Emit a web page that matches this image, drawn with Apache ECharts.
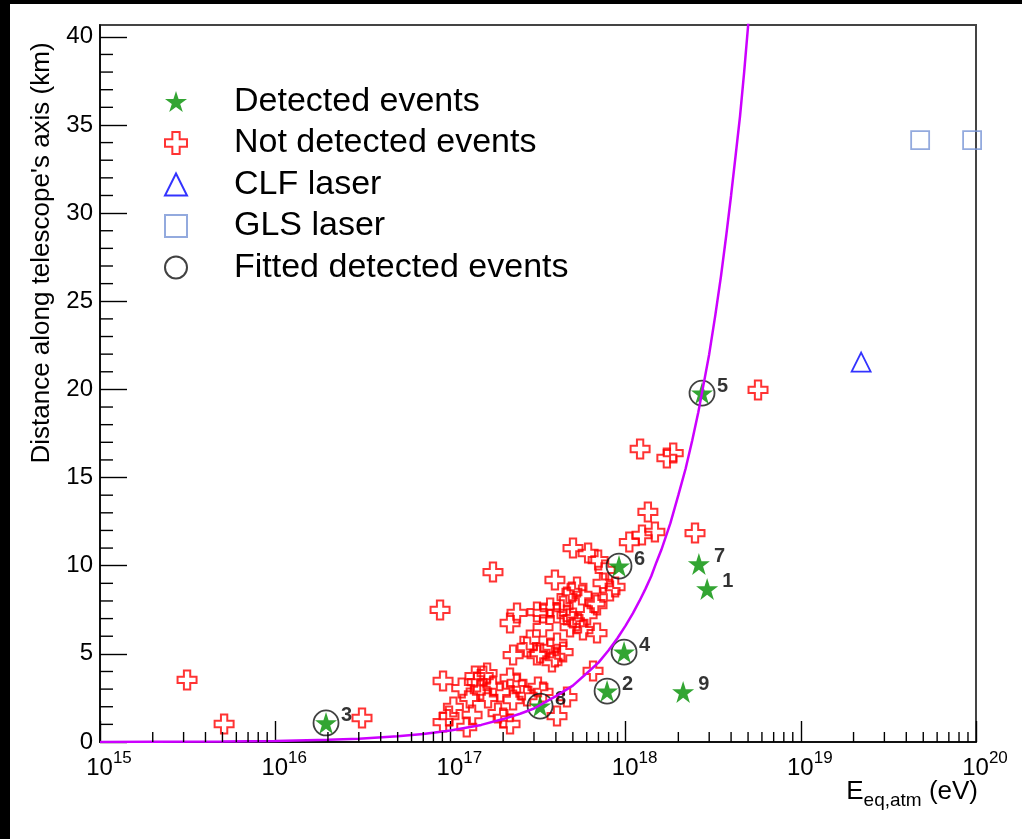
<!DOCTYPE html>
<html>
<head>
<meta charset="utf-8">
<script src="https://cdn.jsdelivr.net/npm/echarts@6/dist/echarts.min.js"></script>
<style>
  html, body { margin: 0; padding: 0; background: #fff; }
  #chart { width: 1022px; height: 839px; }
</style>
</head>
<body>
<div id="chart"></div>
<script>
const FONT = 'Liberation Sans, Arial, sans-serif';

// detected events (green stars), label numbers drawn next to them
const detLabels = ['1', '2', '3', '4', '5', '6', '7', '8', '9'];
const detE  = [2.92e18, 7.84e17, 1.95e16, 9.8e17, 2.73e18, 9.17e17, 2.62e18, 3.25e17, 2.13e18];
const detKm = [8.68, 2.89, 1.08, 5.10, 19.79, 9.98, 10.1, 2.04, 2.84];
// which of them were used in the fit (circled)
const fittedLabels = ['2', '3', '4', '5', '6', '8'];

// not detected events (red open crosses)
const notDetE = [
  3.14e15, 5.11e15, 3.13e16, 8.73e16, 1.75e17, 5.70e18, 1.21e18, 1.72e18, 1.87e18, 1.34e18,
  1.47e18, 1.24e18, 1.05e18, 2.49e18, 5.01e17, 6.11e17, 6.97e17, 7.64e17, 7.43e17, 8.71e17,
  8.15e17, 3.95e17, 5.28e17, 4.94e17, 4.63e17, 5.64e17, 6.70e17, 2.40e17, 3.12e17, 2.19e17,
  3.38e17, 3.71e17, 4.06e17, 4.40e17, 4.63e17, 5.01e17, 5.35e17, 6.03e17, 6.87e17, 6.87e17,
  5.71e17, 4.82e17, 3.38e17, 2.84e17, 2.28e17, 3.12e17, 3.71e17, 3.95e17, 4.06e17, 4.40e17,
  3.80e17, 6.52e17, 9.08e16, 1.16e17, 1.42e17, 1.62e17, 1.48e17, 1.75e17, 2.19e17, 2.40e17,
  2.56e17, 1.29e17, 1.04e17, 9.08e16, 1.24e17, 1.87e17, 2.00e17, 2.19e17, 3.38e17, 4.63e17,
  4.06e17, 1.54e17, 1.33e17, 1.64e17, 1.92e17, 2.74e17, 3.16e17, 2.74e17, 3.25e17, 1.38e17,
  2.28e17, 9.82e16
];
const notDetKm = [
  3.52, 1.02, 1.36, 7.49, 9.64, 19.97, 16.62, 16.11, 16.39, 13.05,
  11.91, 11.74, 11.34, 11.85, 11.0, 10.72, 10.32, 9.76, 9.02, 8.79,
  8.56, 9.19, 8.79, 8.51, 8.22, 8.34, 7.88, 7.32, 7.37, 6.75,
  7.32, 7.60, 7.32, 7.71, 7.20, 7.03, 6.75, 7.20, 7.77, 6.18,
  6.35, 6.52, 6.52, 5.79, 4.93, 4.93, 5.33, 4.82, 5.62, 5.10,
  4.54, 4.03, 3.46, 3.06, 3.40, 3.91, 2.95, 3.12, 3.63, 3.35,
  2.95, 2.50, 1.99, 1.13, 0.85, 1.64, 1.36, 1.02, 2.84, 2.55,
  1.47, 3.74, 1.53, 2.50, 2.84, 2.61, 3.12, 5.39, 5.05, 3.74,
  2.38, 1.47
];

const clfE = [2.21e19];
const clfKm = [21.55];
const glsE = [4.8e19, 9.5e19];
const glsKm = [34.14, 34.14];

// fitted curve
const curveE = [
  1e15, 2e15, 5e15, 1e16, 2e16, 3e16, 5e16, 7e16, 1e17, 1.5e17,
  2e17, 2.5e17, 3e17, 4e17, 5e17, 6e17, 7e17, 8e17, 9e17, 1e18,
  1.1e18, 1.2e18, 1.3e18, 1.4e18, 1.5e18, 1.6e18, 1.8e18, 2e18, 2.2e18, 2.4e18,
  2.6e18, 2.8e18, 3e18, 3.25e18, 3.5e18, 3.75e18, 4e18, 4.25e18, 4.5e18, 4.75e18,
  5e18, 5.25e18
];
const curveKm = [
  0.006, 0.012, 0.03, 0.06, 0.13, 0.19, 0.32, 0.45, 0.65, 0.97,
  1.3, 1.6, 1.9, 2.6, 3.2, 3.9, 4.5, 5.2, 5.9, 6.6,
  7.3, 8.0, 8.7, 9.4, 10.2, 10.9, 12.4, 14.0, 15.5, 17.1,
  18.7, 20.4, 22.0, 24.2, 26.4, 28.7, 31.0, 33.3, 35.5, 38.0,
  40.6, 43.1
];

// axis ticks
const yMajor = [0, 5, 10, 15, 20, 25, 30, 35, 40];
const yMinor = [];
for (let v = 1; v < 40; v++) if (v % 5 !== 0) yMinor.push(v);
const xMinor = [];
for (let n = 15; n < 20; n++) for (let k = 2; k <= 9; k++) xMinor.push(k * Math.pow(10, n));

const zip = (a, b) => a.map((v, i) => [v, b[i]]);

const STAR = 'path://M50,0 L61.2,34.5 L97.6,34.5 L68.2,55.9 L79.4,90.5 L50,69.1 L20.6,90.5 L31.8,55.9 L2.4,34.5 L38.8,34.5 Z';
const PLUS = 'path://M1,0 L2,0 L2,1 L3,1 L3,2 L2,2 L2,3 L1,3 L1,2 L0,2 L0,1 L1,1 Z';

function tickSeries(data, horizontal, len) {
    return {
        type: 'custom',
        silent: true,
        clip: false,
        z: 5,
        data: data,
        renderItem: (params, api) => {
            const p = api.coord([api.value(0), api.value(1)]);
            const shape = horizontal
                ? {x1: p[0], y1: p[1], x2: p[0] + len, y2: p[1]}
                : {x1: p[0], y1: p[1], x2: p[0], y2: p[1] - len};
            return {type: 'line', shape: shape, style: {stroke: '#000', lineWidth: 1.4}};
        }
    };
}

const chart = echarts.init(document.getElementById('chart'));

const fitted = detLabels
    .map((l, i) => [detE[i], detKm[i], l])
    .filter(d => fittedLabels.includes(d[2]))
    .map(d => [d[0], d[1]]);

const option = {
    animation: false,
    backgroundColor: '#fff',
    grid: {
        left: 100, top: 25, width: 876, height: 717,
        show: true, borderColor: '#444', borderWidth: 2, backgroundColor: 'transparent'
    },
    xAxis: {
        type: 'log', logBase: 10, min: 1e15, max: 1e20,
        axisLine: {lineStyle: {color: '#000', width: 1.5}},
        axisTick: {inside: true, length: 21, lineStyle: {color: '#000', width: 1.4}},
        splitLine: {show: false},
        axisLabel: {
            margin: 8,
            formatter: v => '{b|10}{s|' + Math.round(Math.log10(v)) + '}',
            rich: {
                b: {fontSize: 24, fontFamily: FONT, color: '#000', padding: [0, 0, 0, 18]},
                s: {fontSize: 17, fontFamily: FONT, color: '#000', padding: [0, 0, 20, 0]}
            }
        }
    },
    yAxis: {
        type: 'value', min: 0, max: 40.67,
        axisLine: {show: true, lineStyle: {color: '#000', width: 1.5}},
        axisTick: {show: true, inside: true, length: 27, customValues: yMajor, lineStyle: {color: '#000', width: 1.4}},
        splitLine: {show: false},
        axisLabel: {margin: 7, fontSize: 24, fontFamily: FONT, color: '#000', customValues: yMajor}
    },
    legend: {
        orient: 'vertical', left: 164, top: 84.5, padding: 0,
        itemWidth: 22, itemHeight: 22, itemGap: 7.5,
        selectedMode: false,
        data: ['Detected events', 'Not detected events', 'CLF laser', 'GLS laser', 'Fitted detected events'],
        formatter: name => '{p|}{t|' + name + '}',
        textStyle: {
            rich: {
                p: {width: 42},
                t: {fontSize: 34, fontFamily: FONT, color: '#000', lineHeight: 34}
            }
        }
    },
    graphic: [
        {type: 'rect', shape: {x: 0, y: 0, width: 1022, height: 4}, style: {fill: '#000'}, z: 100},
        {type: 'rect', shape: {x: 0, y: 0, width: 10, height: 839}, style: {fill: '#000'}, z: 100},
        {
            type: 'text', x: 42, y: 253, rotation: Math.PI / 2,
            style: {
                text: "Distance along telescope's axis (km)",
                fontSize: 26, fontFamily: FONT, fill: '#000',
                align: 'center', verticalAlign: 'middle'
            }
        },
        {
            type: 'text', x: 978, y: 792,
            style: {
                text: '{b|E}{s|eq,atm}{b| (eV)}',
                fill: '#000', align: 'right', verticalAlign: 'middle',
                rich: {
                    b: {fontSize: 26, fontFamily: FONT, fill: '#000'},
                    s: {fontSize: 19, fontFamily: FONT, fill: '#000', padding: [18, 0, 0, 0]}
                }
            }
        }
    ],
    series: [
        tickSeries(xMinor.map(v => [v, 0]), false, 10),
        tickSeries(yMinor.map(v => [1e15, v]), true, 13),
        {
            name: 'Not detected events',
            type: 'scatter',
            symbol: PLUS, symbolSize: 19,
            itemStyle: {color: 'rgba(255,255,255,0)', borderColor: '#ff0000', borderWidth: 2},
            data: zip(notDetE, notDetKm)
        },
        {
            name: 'fit',
            type: 'line',
            showSymbol: false,
            lineStyle: {color: '#cc00ff', width: 2.5},
            data: zip(curveE, curveKm)
        },
        {
            name: 'CLF laser',
            type: 'scatter',
            symbol: 'triangle', symbolSize: 19,
            itemStyle: {color: 'rgba(255,255,255,0)', borderColor: '#0000ff', borderWidth: 1.8},
            data: zip(clfE, clfKm)
        },
        {
            name: 'GLS laser',
            type: 'scatter',
            symbol: 'rect', symbolSize: 18,
            itemStyle: {color: 'rgba(255,255,255,0)', borderColor: '#7895d6', borderWidth: 1.8},
            data: zip(glsE, glsKm)
        },
        {
            name: 'Fitted detected events',
            type: 'scatter',
            symbol: 'circle', symbolSize: 25,
            itemStyle: {color: 'rgba(255,255,255,0)', borderColor: '#111', borderWidth: 1.8},
            data: fitted
        },
        {
            name: 'Detected events',
            type: 'scatter',
            symbol: STAR, symbolSize: 22,
            itemStyle: {color: '#008f00'},
            label: {
                show: true, position: 'right', distance: 4, offset: [0, -7],
                formatter: p => detLabels[p.dataIndex],
                fontSize: 20, fontWeight: 'bold', fontFamily: FONT, color: '#000'
            },
            data: zip(detE, detKm)
        }
    ]
};

chart.setOption(option);
</script>
</body>
</html>
